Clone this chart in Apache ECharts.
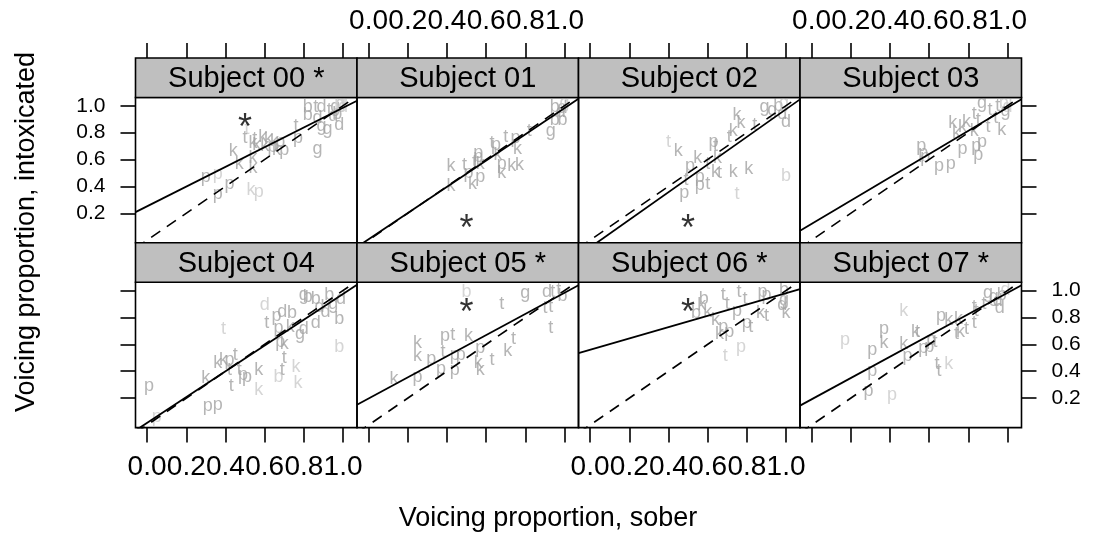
<!DOCTYPE html>
<html><head><meta charset="utf-8">
<script src="https://cdn.jsdelivr.net/npm/echarts@6/dist/echarts.min.js"></script>
<style>html,body{margin:0;padding:0;background:#fff}#c{width:1096px;height:540px}</style>
</head><body><div id="c"></div>
<script>
// ---------------- data ----------------
const subjects = ['Subject 00 *','Subject 01','Subject 02','Subject 03','Subject 04','Subject 05 *','Subject 06 *','Subject 07 *'];
const xTickValues = [0, 0.2, 0.4, 0.6, 0.8, 1.0];
const xTickLabels = ['0.0','0.2','0.4','0.6','0.8','1.0'];
const yTickValues = [0.2, 0.4, 0.6, 0.8, 1.0];
const yTickLabels = ['0.2','0.4','0.6','0.8','1.0'];
const xTitle = 'Voicing proportion, sober';
const yTitle = 'Voicing proportion, intoxicated';
// regression line (intoxicated = intercept + slope * sober)
const intercepts = [0.252, 0.007, -0.054, 0.121, 0.016, 0.197, 0.559, 0.191];
const slopes     = [0.733, 0.975, 1.028, 0.866, 0.958, 0.786, 0.421, 0.792];
// speaker-level mean marked by an asterisk (null = none)
const starPoints = [[0.50,0.89],[0.50,0.14],[0.50,0.14],null,null,[0.50,0.89],[0.50,0.89],null];
// points: [sober, intoxicated, stop, frequency class (2 = common, 1 = rare)]
const s00 = [
 [0.51,0.83,'t',1],[0.50,0.76,'t',2],[0.55,0.75,'t',2],[0.59,0.77,'k',2],[0.62,0.75,'k',2],
 [0.65,0.74,'k',2],[0.68,0.73,'p',2],[0.60,0.70,'k',2],[0.56,0.71,'k',2],[0.54,0.72,'k',2],
 [0.64,0.69,'p',2],[0.66,0.67,'k',2],[0.70,0.67,'p',2],[0.44,0.66,'k',2],[0.47,0.57,'k',2],
 [0.54,0.61,'k',2],[0.54,0.54,'k',2],[0.30,0.47,'p',2],[0.36,0.49,'p',1],[0.42,0.42,'p',2],
 [0.36,0.34,'p',2],[0.53,0.37,'k',1],[0.57,0.36,'p',1],[0.77,0.76,'p',2],[0.76,0.85,'t',2],
 [0.87,0.68,'g',2],[0.82,0.99,'b',2],[0.86,0.99,'t',2],[0.89,0.99,'d',2],[0.82,0.93,'b',2],
 [0.87,0.91,'d',2],[0.89,0.85,'g',2],[0.92,0.83,'g',2],[0.98,0.86,'d',2],[0.95,0.92,'d',2],
 [0.96,0.99,'g',2],[0.98,1.01,'b',1],[1.00,0.99,'d',1],[0.99,1.02,'g',1],[0.93,0.97,'t',2],
 [0.97,0.94,'b',2]
];
const s01 = [
 [0.42,0.55,'k',2],[0.42,0.40,'k',2],[0.49,0.56,'t',2],[0.51,0.50,'p',2],[0.53,0.42,'k',2],
 [0.57,0.47,'p',2],[0.56,0.65,'p',2],[0.56,0.62,'p',2],[0.54,0.58,'t',2],[0.57,0.57,'k',2],
 [0.63,0.72,'t',2],[0.65,0.71,'p',2],[0.66,0.63,'k',2],[0.68,0.57,'p',2],[0.68,0.50,'k',2],
 [0.70,0.77,'t',2],[0.75,0.76,'p',2],[0.76,0.68,'k',2],[0.77,0.56,'k',2],[0.73,0.55,'k',2],
 [0.82,0.81,'t',2],[0.93,0.81,'g',2],[0.95,0.99,'b',2],[0.95,0.89,'b',2],[0.99,0.89,'b',2],
 [0.99,0.98,'d',2],[1.00,1.02,'g',1],[0.98,0.95,'d',2]
];
const s02 = [
 [0.40,0.73,'t',1],[0.45,0.66,'k',2],[0.55,0.61,'k',2],[0.63,0.73,'p',2],[0.64,0.70,'t',2],
 [0.65,0.61,'k',2],[0.60,0.57,'t',2],[0.51,0.55,'p',2],[0.56,0.47,'p',2],[0.60,0.42,'t',2],
 [0.56,0.41,'p',2],[0.48,0.35,'p',2],[0.49,0.45,'t',2],[0.64,0.51,'k',2],[0.66,0.50,'t',2],
 [0.73,0.51,'k',2],[0.81,0.53,'k',2],[0.75,0.34,'t',1],[1.00,0.48,'b',1],[0.71,0.77,'t',2],
 [0.73,0.81,'k',2],[0.75,0.93,'k',2],[0.77,0.87,'k',2],[0.84,0.86,'t',2],[0.89,0.99,'g',2],
 [0.93,0.97,'g',2],[0.96,1.00,'b',2],[0.98,0.94,'d',2],[1.00,0.88,'d',2],[0.99,1.02,'g',1]
];
const s03 = [
 [0.56,0.70,'p',2],[0.57,0.65,'p',2],[0.58,0.62,'p',2],[0.65,0.55,'p',2],[0.71,0.57,'p',2],
 [0.77,0.68,'p',2],[0.84,0.70,'p',2],[0.85,0.63,'p',2],[0.87,0.73,'p',2],[0.72,0.87,'k',2],
 [0.74,0.80,'k',2],[0.77,0.84,'k',2],[0.79,0.88,'k',2],[0.83,0.81,'k',2],[0.83,0.94,'t',2],
 [0.85,0.89,'t',2],[0.87,1.02,'g',2],[0.91,0.97,'t',2],[0.90,0.84,'t',2],[0.94,0.91,'t',2],
 [0.97,0.82,'k',2],[0.95,1.00,'t',2],[0.98,1.02,'b',1],[1.00,0.99,'d',1],[0.99,0.96,'g',2]
];
const s04 = [
 [0.01,0.29,'p',2],[0.05,0.06,'p',1],[0.31,0.14,'p',2],[0.36,0.15,'p',2],[0.43,0.29,'t',2],
 [0.30,0.35,'k',2],[0.36,0.46,'k',2],[0.39,0.48,'k',2],[0.42,0.48,'p',2],[0.45,0.52,'t',2],
 [0.42,0.41,'t',2],[0.47,0.41,'t',2],[0.49,0.37,'p',2],[0.51,0.36,'p',2],[0.57,0.41,'k',2],
 [0.57,0.26,'k',1],[0.67,0.36,'b',1],[0.69,0.41,'t',2],[0.70,0.50,'t',2],[0.76,0.43,'k',1],
 [0.77,0.31,'k',1],[0.39,0.71,'t',1],[0.60,0.89,'d',1],[0.61,0.76,'t',2],[0.66,0.81,'p',2],
 [0.69,0.84,'d',2],[0.74,0.83,'b',2],[0.67,0.72,'p',2],[0.73,0.73,'k',2],[0.68,0.62,'p',2],
 [0.70,0.60,'k',2],[0.78,0.68,'g',2],[0.80,0.71,'d',2],[0.86,0.76,'d',2],[0.98,0.58,'b',1],
 [0.98,0.79,'b',2],[0.80,0.97,'g',2],[0.82,0.95,'b',2],[0.86,0.94,'b',2],[0.93,0.97,'b',2],
 [0.99,0.94,'d',2],[0.91,0.84,'d',2],[0.88,0.88,'d',2],[0.95,0.90,'g',2]
];
const s05 = [
 [0.50,0.99,'b',1],[0.68,0.90,'t',2],[0.80,0.98,'g',2],[0.91,0.99,'d',2],[0.94,0.99,'t',2],
 [0.97,1.00,'t',2],[0.99,0.96,'b',2],[0.90,0.87,'t',2],[0.93,0.88,'t',2],[0.93,0.72,'t',2],
 [0.25,0.61,'k',2],[0.25,0.51,'k',2],[0.13,0.34,'k',2],[0.25,0.36,'p',2],[0.32,0.49,'p',2],
 [0.38,0.54,'t',2],[0.39,0.66,'p',2],[0.43,0.67,'t',2],[0.51,0.66,'k',2],[0.37,0.42,'p',2],
 [0.44,0.52,'p',2],[0.47,0.52,'p',2],[0.44,0.41,'p',2],[0.57,0.57,'p',2],[0.56,0.46,'k',2],
 [0.57,0.41,'k',2],[0.63,0.48,'t',2],[0.71,0.55,'k',2],[0.74,0.64,'t',2]
];
const s06 = [
 [0.54,0.83,'b',2],[0.58,0.94,'b',2],[0.57,0.89,'k',2],[0.60,0.84,'k',2],[0.64,0.78,'k',2],
 [0.66,0.68,'k',2],[0.68,0.73,'p',2],[0.71,0.69,'p',2],[0.69,0.51,'t',1],[0.77,0.58,'p',1],
 [0.68,0.97,'t',2],[0.70,0.90,'t',2],[0.76,0.99,'t',2],[0.79,0.94,'t',2],[0.75,0.85,'p',2],
 [0.80,0.76,'p',2],[0.82,0.73,'t',2],[0.88,0.99,'p',2],[0.90,0.97,'p',2],[0.87,0.83,'k',2],
 [0.90,0.81,'t',2],[0.99,1.00,'b',2],[0.99,0.93,'g',2],[0.98,0.89,'d',2],[1.00,0.83,'k',2]
];
const s07 = [
 [0.17,0.63,'p',1],[0.31,0.56,'p',2],[0.37,0.71,'p',2],[0.37,0.61,'k',2],[0.31,0.40,'p',2],
 [0.29,0.25,'p',2],[0.41,0.22,'p',1],[0.47,0.85,'k',1],[0.47,0.60,'k',2],[0.49,0.51,'p',2],
 [0.53,0.69,'k',2],[0.54,0.69,'t',2],[0.57,0.57,'p',2],[0.60,0.58,'p',2],[0.63,0.62,'t',2],
 [0.61,0.63,'p',2],[0.64,0.45,'t',2],[0.65,0.40,'t',2],[0.70,0.45,'k',1],[0.66,0.81,'p',2],
 [0.70,0.78,'k',2],[0.75,0.79,'k',2],[0.74,0.68,'t',2],[0.76,0.69,'k',2],[0.79,0.71,'t',2],
 [0.83,0.76,'t',2],[0.83,0.88,'t',2],[0.84,0.85,'t',2],[0.88,0.90,'t',2],[0.90,0.98,'g',2],
 [0.93,0.95,'g',2],[0.96,0.87,'d',2],[0.97,0.97,'b',2],[0.99,1.00,'d',1],[0.95,0.92,'d',2]
];
const panels = [s00, s01, s02, s03, s04, s05, s06, s07];

// ---------------- layout ----------------
const FONT = '"Liberation Sans", Arial, Helvetica, sans-serif';
const X_MIN = -0.059, X_MAX = 1.071, Y_MIN = -0.019, Y_MAX = 1.061;
const PLOT_L = 135.5, PANEL_W = 221.5, STRIP_H = 39.5, PLOT_H = 145.3;
const ROW_TOP = [97.5, 282.3];
const LW = 1.6;
const shade = n => n === 1 ? '#cbcbcb' : '#a2a2a2';
const lookup = (vals, labs) => v => { let b = 0; vals.forEach((t, i) => { if (Math.abs(t - v) < Math.abs(vals[b] - v)) b = i; }); return labs[b]; };
const fmtX = lookup(xTickValues, xTickLabels);
const fmtY = lookup(yTickValues, yTickLabels);

const grid = [], xAxis = [], yAxis = [], series = [], graphic = [];
const tickStyle = { color: '#000', width: LW };
const xLbl = { color: '#000', fontSize: 28, fontFamily: FONT, formatter: fmtX, customValues: xTickValues, hideOverlap: false, showMinLabel: true, showMaxLabel: true };
const yLbl = { color: '#000', fontSize: 21, fontFamily: FONT, formatter: fmtY, customValues: yTickValues };

panels.forEach((pts, i) => {
  const col = i % 4, row = Math.floor(i / 4);
  const left = PLOT_L + col * PANEL_W, top = ROW_TOP[row];
  grid.push({ left, top, width: PANEL_W, height: PLOT_H, show: true, borderColor: '#000', borderWidth: LW, backgroundColor: 'transparent' });
  const baseX = { type: 'value', gridIndex: i, min: X_MIN, max: X_MAX, splitLine: { show: false }, axisLine: { show: false, onZero: false } };
  const baseY = { type: 'value', gridIndex: i, min: Y_MIN, max: Y_MAX, splitLine: { show: false }, axisLine: { show: false, onZero: false } };
  xAxis.push(Object.assign({}, baseX, { position: 'bottom',
    axisTick: { show: row === 1, length: 15, customValues: xTickValues, lineStyle: tickStyle },
    axisLabel: Object.assign({}, xLbl, { show: row === 1 && col % 2 === 0, margin: 26 }) }));
  xAxis.push(Object.assign({}, baseX, { position: 'top', offset: STRIP_H,
    axisTick: { show: row === 0, length: 15, customValues: xTickValues, lineStyle: tickStyle },
    axisLabel: Object.assign({}, xLbl, { show: row === 0 && col % 2 === 1, margin: 23 }) }));
  yAxis.push(Object.assign({}, baseY, { position: 'left',
    axisTick: { show: col === 0, length: 15, customValues: yTickValues, lineStyle: tickStyle },
    axisLabel: Object.assign({}, yLbl, { show: col === 0 && row === 0, margin: 30 }) }));
  yAxis.push(Object.assign({}, baseY, { position: 'right',
    axisTick: { show: col === 3, length: 15, customValues: yTickValues, lineStyle: tickStyle },
    axisLabel: Object.assign({}, yLbl, { show: col === 3 && row === 1, margin: 30 }) }));

  const xi = 2 * i, yi = 2 * i;
  series.push({
    type: 'scatter', xAxisIndex: xi, yAxisIndex: yi, symbolSize: 1, silent: true,
    itemStyle: { color: 'rgba(0,0,0,0)' },
    data: pts.map(p => ({ value: [p[0], p[1]], name: p[2],
      label: { show: true, position: 'inside', formatter: p[2], color: shade(p[3]), fontSize: 18, fontFamily: FONT } }))
  });
  series.push({
    type: 'line', xAxisIndex: xi, yAxisIndex: yi, symbol: 'none', silent: true, clip: true,
    lineStyle: { color: '#000', width: LW, type: [11, 8] },
    data: [[X_MIN, X_MIN], [X_MAX, X_MAX]]
  });
  series.push({
    type: 'line', xAxisIndex: xi, yAxisIndex: yi, symbol: 'none', silent: true, clip: true,
    lineStyle: { color: '#000', width: LW + 0.2 },
    data: [[X_MIN, intercepts[i] + slopes[i] * X_MIN], [X_MAX, intercepts[i] + slopes[i] * X_MAX]]
  });
  if (starPoints[i]) {
    series.push({
      type: 'scatter', xAxisIndex: xi, yAxisIndex: yi, symbolSize: 1, silent: true,
      itemStyle: { color: 'rgba(0,0,0,0)' },
      data: [{ value: starPoints[i], label: { show: true, position: 'inside', formatter: '*', color: '#000', fontSize: 36, fontFamily: FONT, offset: [0, 9] } }]
    });
  }
  graphic.push({ type: 'rect', shape: { x: left, y: top - STRIP_H, width: PANEL_W, height: STRIP_H },
    style: { fill: '#bfbfbf', stroke: '#000', lineWidth: LW }, z: 10 });
  graphic.push({ type: 'text', x: left + PANEL_W / 2, y: top - STRIP_H / 2 + 1,
    style: { text: subjects[i], fill: '#000', font: '29px ' + FONT, align: 'center', verticalAlign: 'middle' }, z: 11 });
});

graphic.push({ type: 'text', x: 548, y: 519, style: { text: xTitle, fill: '#000', font: '27px ' + FONT, align: 'center', verticalAlign: 'middle' } });
graphic.push({ type: 'text', x: 27, y: 232, rotation: Math.PI / 2, style: { text: yTitle, fill: '#000', font: '27px ' + FONT, align: 'center', verticalAlign: 'middle' } });

const chart = echarts.init(document.getElementById('c'), null, { renderer: 'canvas' });
chart.setOption({ animation: false, backgroundColor: '#fff', grid, xAxis, yAxis, series, graphic });
</script></body></html>
